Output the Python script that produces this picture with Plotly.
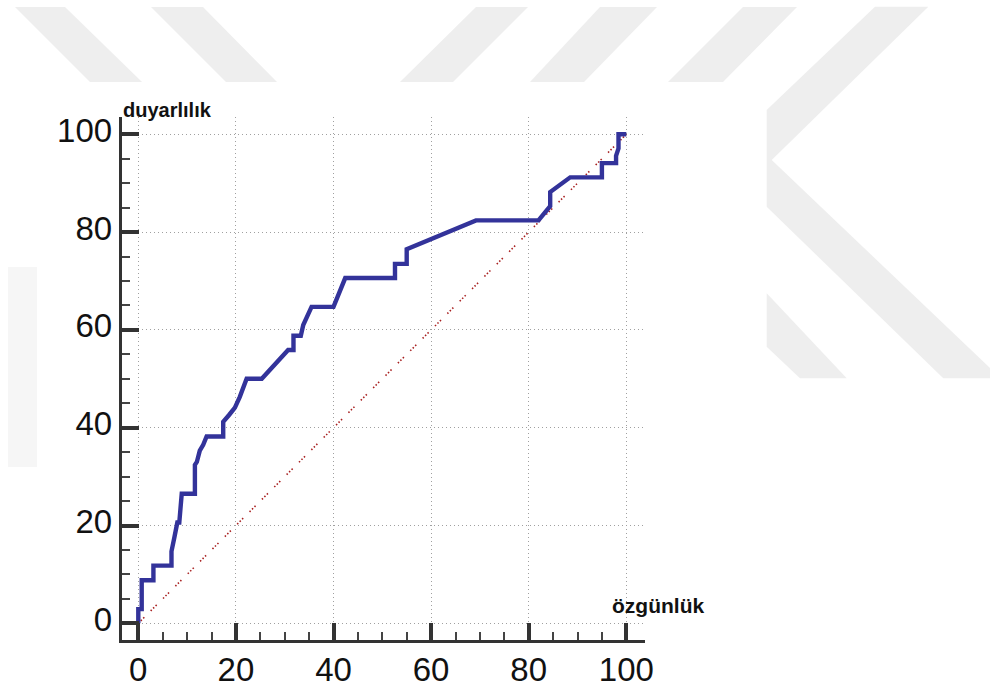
import plotly.graph_objects as go

# ROC curve: 100-specificity (özgünlük) vs sensitivity (duyarlılık)
roc_x = [0, 0, 0.7, 0.7, 3.1, 3.1, 6.8, 6.8, 7.4, 8.0,
         8.4, 8.9, 11.6, 11.6, 12.0, 12.6, 13.3, 14.0, 17.4, 17.4,
         18.6, 19.8, 20.8, 21.5, 22.2, 25.3, 30.7, 31.8, 31.8, 33.3,
         33.8, 35.5, 40.0, 42.4, 52.6, 52.6, 55.0, 55.0, 69.2, 82.0,
         84.4, 84.4, 88.5, 95.0, 95.0, 97.9, 97.9, 98.4, 98.4, 100]
roc_y = [0, 2.9, 2.9, 8.8, 8.8, 11.8, 11.8, 14.7, 17.6, 20.6,
         20.6, 26.5, 26.5, 32.4, 33.0, 35.3, 36.5, 38.2, 38.2, 41.2,
         42.6, 44.1, 46.3, 48.4, 50.0, 50.0, 55.9, 55.9, 58.8, 58.8,
         61.0, 64.7, 64.7, 70.6, 70.6, 73.5, 73.5, 76.5, 82.4, 82.4,
         85.3, 88.2, 91.2, 91.2, 94.1, 94.1, 95.6, 97.1, 100, 100]

# chance line
diag_x = [0, 100]
diag_y = [0, 100]

tick_vals = [0, 20, 40, 60, 80, 100]
tick_text = ["0", "20", "40", "60", "80", "100"]

W, H = 990, 690


def px(x):
    return x / W


def py(y):
    return 1 - y / H


def poly(points):
    d = "M " + " L ".join(f"{px(a):.5f},{py(b):.5f}" for a, b in points) + " Z"
    return d


# light background emblem strokes
emblem = [
    [(15, 7), (65, 7), (142, 82), (90, 82)],
    [(151, 7), (203, 7), (277, 82), (226, 82)],
    [(476, 7), (528, 7), (453, 82), (400, 82)],
    [(600, 7), (657, 7), (584, 82), (530, 82)],
    [(743, 7), (797, 7), (723, 82), (668, 82)],
    [(766.7, 110), (875, 6.7), (928.3, 6.7), (771.7, 160), (990, 368),
     (990, 378.3), (943.3, 378.3), (766.7, 206.7)],
    [(766.7, 293.3), (846.7, 378.3), (800, 378.3), (766.7, 346.7)],
]
shapes = [dict(type="path", path=poly(p), xref="paper", yref="paper",
               fillcolor="#eeeeee", line=dict(width=0), layer="below")
          for p in emblem]
shapes.append(dict(type="rect", xref="paper", yref="paper",
                   x0=px(8), x1=px(37), y0=py(467), y1=py(267),
                   fillcolor="#f6f6f6", line=dict(width=0), layer="below"))

fig = go.Figure()
fig.add_trace(go.Scatter(
    x=diag_x, y=diag_y, mode="lines",
    line=dict(color="#a82020", width=1.6, dash="1.5px,2px,1.5px,2px,1.5px,9px"),
    hoverinfo="skip"))
fig.add_trace(go.Scatter(
    x=roc_x, y=roc_y, mode="lines",
    line=dict(color="#33339a", width=4.4),
    hoverinfo="skip"))

font_family = "Liberation Sans, Arial, sans-serif"

axis_common = dict(
    tickvals=tick_vals, ticktext=tick_text,
    ticks="inside", ticklen=17, tickwidth=3.8, tickcolor="#333333",
    showline=True, linewidth=3, linecolor="#333333",
    showgrid=True, gridcolor="#a0a0a0", gridwidth=1, griddash="1px,3px",
    zeroline=False, automargin=False,
    minor=dict(dtick=5, tick0=0, ticks="inside", ticklen=8, tickwidth=2,
               tickcolor="#444444", showgrid=False),
    tickfont=dict(family=font_family, size=33, color="#111111"),
    fixedrange=True,
)

fig.update_layout(
    width=W, height=H,
    margin=dict(l=0, r=0, t=0, b=0, autoexpand=False),
    paper_bgcolor="white",
    plot_bgcolor="rgba(0,0,0,0)",
    showlegend=False,
    shapes=shapes,
    xaxis=dict(domain=[px(121.7), px(645)], range=[-3.40, 103.83],
               ticklabelstandoff=-2, **axis_common),
    yaxis=dict(domain=[py(640), py(116.7)], range=[-3.415, 103.6],
               ticklabelstandoff=0, ticklabelshift=-4, **axis_common),
    annotations=[
        dict(text="<b>duyarlılık</b>", xref="paper", yref="paper",
             x=px(121), y=py(123), xanchor="left", yanchor="bottom",
             showarrow=False,
             font=dict(family=font_family, size=20, color="#111111")),
        dict(text="<b>özgünlük</b>", xref="paper", yref="paper",
             x=px(609.5), y=py(619), xanchor="left", yanchor="bottom",
             showarrow=False,
             font=dict(family=font_family, size=21, color="#111111")),
    ],
)

fig.write_html("out.html")
